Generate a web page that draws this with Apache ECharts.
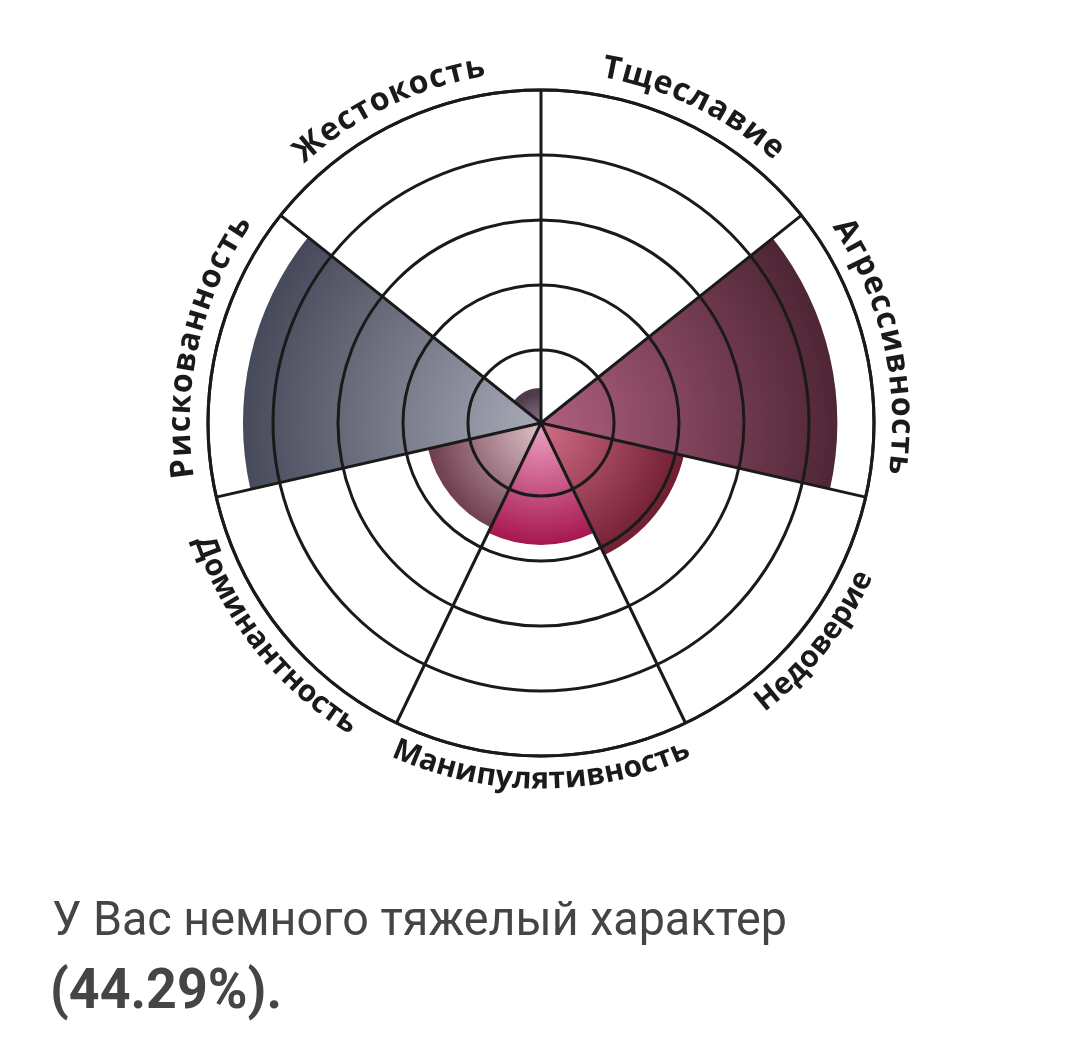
<!DOCTYPE html>
<html>
<head>
<meta charset="utf-8">
<script src="https://cdn.jsdelivr.net/npm/echarts@6/dist/echarts.min.js"></script>
<style>
  html, body { margin: 0; padding: 0; background: #fff; }
  #chart { width: 1080px; height: 1054px; }
</style>
</head>
<body>
<div id="chart"></div>
<script>
// категории по часовой стрелке, начиная сверху
const categories = ['Тщеславие', 'Агрессивность', 'Недоверие', 'Манипулятивность', 'Доминантность', 'Рискованность', 'Жестокость'];
// значения в процентах от внешнего круга
const values = [0, 89, 44, 36.6, 34.8, 89.5, 10.5];
const ringTicks = [0, 20, 40, 60, 80, 100];
const resultText = 'У Вас немного тяжелый характер';
const resultPercent = '44.29';

// оформление
const CX = 541, CY = 423, R_OUT = 333;
const LINE = '#1a1a1a';
const palette = [
  ['#b0607f', '#4f2636'],
  ['#b0607f', '#4f2636'],
  ['#d06c86', '#6e1c30'],
  ['#ea9cc0', '#a3104a'],
  ['#dcc0c6', '#6c3a4c'],
  ['#a8aab8', '#474a5a'],
  ['#9a8090', '#4e3c4c']
];

const measureCtx = document.createElement('canvas').getContext('2d');

function sectorColor(i) {
  const r = Math.max(values[i], 1) / 100 * R_OUT;
  return {
    type: 'radial', x: CX, y: CY + 6, r: r, global: true,
    colorStops: [
      { offset: 0, color: palette[i][0] },
      { offset: 1, color: palette[i][1] }
    ]
  };
}

// подписи по дуге
function renderLabel(params, api) {
  const cat = categories[params.dataIndex];
  const cs = params.coordSys;
  const p = api.coord([100, cat]);
  const theta = Math.atan2(cs.cy - p[1], p[0] - cs.cx);
  const top = Math.sin(theta) > 0;
  const R = cs.r * (top ? 1.082 : 1.072);
  const size = top ? 32 : 30;
  const spacing = top ? 1.5 : -0.3;
  measureCtx.font = 'bold ' + size + 'px "Open Sans"';
  const chars = Array.from(cat);
  const widths = chars.map(c => measureCtx.measureText(c).width + spacing);
  const total = widths.reduce((a, b) => a + b, 0);
  const dir = top ? -1 : 1;
  let acc = -total / 2;
  const children = chars.map((c, i) => {
    const off = acc + widths[i] / 2;
    acc += widths[i];
    const t = theta + dir * off / R;
    return {
      type: 'text',
      x: cs.cx + R * Math.cos(t),
      y: cs.cy - R * Math.sin(t),
      rotation: top ? t - Math.PI / 2 : t + Math.PI / 2,
      style: {
        text: c, fill: '#1a1a1a',
        fontSize: size, fontWeight: 'bold', fontFamily: 'Open Sans',
        align: 'center', verticalAlign: 'middle'
      }
    };
  });
  return { type: 'group', children: children };
}

measureCtx.font = '48px Roboto';
const line1Scale = 735 / measureCtx.measureText(resultText).width;
measureCtx.font = 'bold 56px Roboto';
const line2Text = '(' + resultPercent + '%).';
const line2Scale = 232 / measureCtx.measureText(line2Text).width;

const chart = echarts.init(document.getElementById('chart'));

const option = {
  animation: false,
  polar: [
    { center: [CX, CY], radius: R_OUT },
    { center: [CX, CY], radius: [8, R_OUT] }
  ],
  angleAxis: [{
    polarIndex: 0,
    type: 'category',
    data: categories,
    startAngle: 90,
    clockwise: true,
    z: 5,
    axisLine: { show: true, lineStyle: { color: LINE, width: 3 } },
    axisTick: { show: false },
    axisLabel: { show: false },
    splitLine: { show: true, lineStyle: { color: LINE, width: 3 } }
  }, {
    polarIndex: 1,
    type: 'value',
    show: false
  }],
  radiusAxis: [{
    polarIndex: 0,
    type: 'value',
    min: 0,
    max: 100,
    show: false
  }, {
    polarIndex: 1,
    type: 'value',
    min: ringTicks[0],
    max: ringTicks[ringTicks.length - 1],
    interval: ringTicks[1] - ringTicks[0],
    z: 5,
    axisLine: { show: false },
    axisTick: { show: false },
    axisLabel: { show: false },
    splitLine: {
      show: true,
      lineStyle: { color: ringTicks.map((t, i) => i === 0 ? 'rgba(0,0,0,0)' : LINE), width: 3 }
    }
  }],
  series: [{
    type: 'bar',
    coordinateSystem: 'polar',
    polarIndex: 0,
    barCategoryGap: '0%',
    z: 2,
    data: values.map((v, i) => ({ value: v, itemStyle: { color: sectorColor(i) } }))
  }, {
    type: 'custom',
    coordinateSystem: 'polar',
    polarIndex: 0,
    renderItem: renderLabel,
    silent: true,
    z: 6,
    data: categories.map(c => [100, c])
  }],
  graphic: [{
    type: 'text',
    x: 52, y: 923,
    scaleX: line1Scale,
    style: {
      text: resultText, fill: '#454545',
      fontSize: 48, fontFamily: 'Roboto',
      align: 'left', verticalAlign: 'middle'
    }
  }, {
    type: 'text',
    x: 50, y: 994,
    scaleX: line2Scale,
    style: {
      text: line2Text, fill: '#454545',
      fontSize: 56, fontWeight: 'bold', fontFamily: 'Roboto',
      align: 'left', verticalAlign: 'middle'
    }
  }]
};

chart.setOption(option);
</script>
</body>
</html>
